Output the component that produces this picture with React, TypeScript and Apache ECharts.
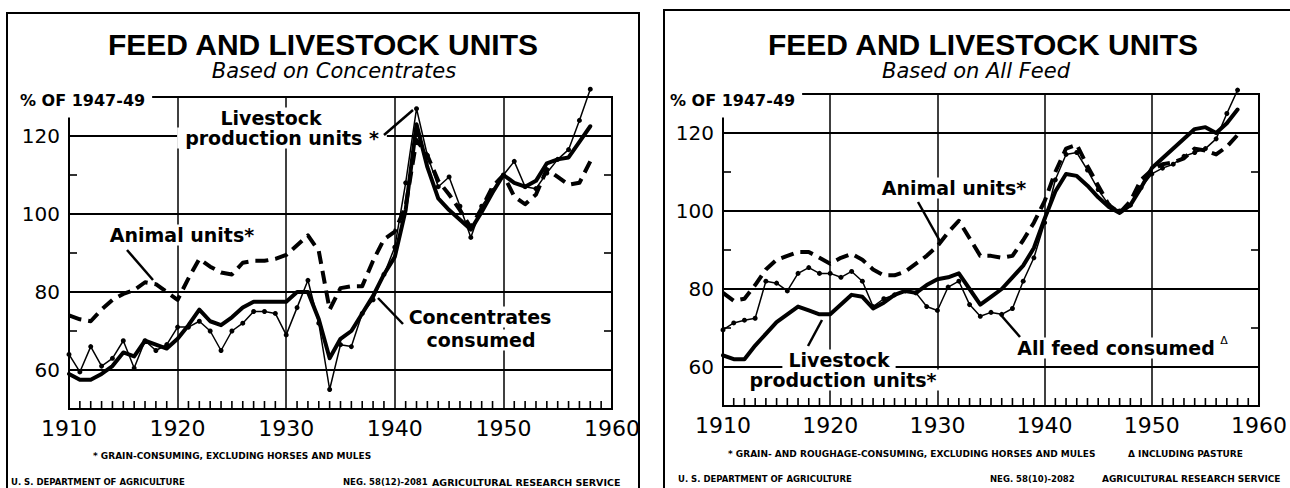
import React, { useEffect, useRef } from "react";
import * as echarts from "echarts";

// ---------- data (% of 1947-49) ----------
const years = [
  1910, 1911, 1912, 1913, 1914, 1915, 1916, 1917, 1918, 1919,
  1920, 1921, 1922, 1923, 1924, 1925, 1926, 1927, 1928, 1929,
  1930, 1931, 1932, 1933, 1934, 1935, 1936, 1937, 1938, 1939,
  1940, 1941, 1942, 1943, 1944, 1945, 1946, 1947, 1948, 1949,
  1950, 1951, 1952, 1953, 1954, 1955, 1956, 1957, 1958,
];

// Left panel: based on concentrates
const concLivestockUnits = [
  59, 57.5, 57.5, 59, 61, 64.5, 63.5, 67.5, 66.5, 65.5,
  68, 71.5, 75.5, 72.5, 71.5, 73.5, 76, 77.5, 77.5, 77.5,
  77.5, 80, 80, 73, 63, 68, 70, 74.5, 79, 84.5,
  89, 101, 123, 112, 104, 101, 98.5, 96, 100.5, 105.5,
  110, 108, 107, 108.5, 113, 114, 114.5, 118.5, 122.5,
];
const concAnimalUnits = [
  74, 73, 72.5, 75.5, 78, 79.5, 80.5, 82.5, 82, 80,
  78, 83.5, 88.5, 86.5, 85, 84.5, 87.5, 88, 88, 88.5,
  89.5, 92, 94.5, 90.5, 75.5, 81, 81.5, 81.5, 88, 93.5,
  95.5, 102, 119, 115, 108.5, 105, 101, 96.5, 101.5, 107,
  110, 104.5, 102.5, 105, 111.5, 109.5, 107.5, 108, 113.5,
];
const concConsumed = [
  64, 59.5, 66, 61, 63, 67.5, 60.5, 67.5, 65, 66.5,
  71, 71, 72.5, 70, 65, 70, 72, 75, 75, 74.5,
  69, 76, 83, 72, 55, 66.5, 66, 74.5, 78, 84.5,
  91.5, 108, 127, 115, 107, 109.5, 102, 94, 102, 106,
  110, 113.5, 107, 106.5, 110.5, 114, 116.5, 124, 132,
];

// Right panel: based on all feed
const allLivestockUnits = [
  63, 62, 62, 65.5, 68.5, 71.5, 73.5, 75.5, 74.5, 73.5,
  73.5, 76, 78.5, 78, 75, 76.5, 78.5, 79.5, 79, 81,
  82.5, 83, 84, 80, 76, 78, 80, 83, 86, 90.5,
  98, 105, 109.5, 109, 106.5, 103.5, 101, 99.5, 101.5, 106,
  111, 113.5, 116, 118.5, 121, 121.5, 120, 122.5, 126,
];
const allAnimalUnits = [
  79, 77, 77.5, 81, 85, 87.5, 88.5, 89.5, 89.5, 88,
  86.5, 88, 89, 87.5, 85, 83.5, 83.5, 84.5, 86.5, 88.5,
  91, 94.5, 97.5, 93, 88.5, 88.5, 88, 88.5, 92.5, 97,
  102.5, 110, 116, 117, 111.5, 106.5, 101.5, 99.5, 102.5, 108,
  110.5, 112, 112.5, 113.5, 116, 115.5, 114.5, 116.5, 119.5,
];
const allFeedConsumed = [
  69.5, 71.3, 72, 72.5, 82, 81.5, 79.5, 84, 85.5, 84,
  84, 83, 84.5, 82, 75.5, 77.5, 78.5, 79.5, 79, 75.5,
  74.5, 80.5, 82, 76, 73, 74, 73.5, 75, 82, 88,
  97, 108, 114.5, 115, 110.5, 105.5, 101.5, 100, 101.5, 106,
  109.5, 111, 112, 114, 115, 116, 118.5, 125, 131,
];

// axis ticks / labels
const yLabelValues = [60, 80, 100, 120];
const yMinorTicks = [70, 90, 110];
const yearTicks = [
  1911, 1912, 1913, 1914, 1915, 1916, 1917, 1918, 1919,
  1921, 1922, 1923, 1924, 1925, 1926, 1927, 1928, 1929,
  1931, 1932, 1933, 1934, 1935, 1936, 1937, 1938, 1939,
  1941, 1942, 1943, 1944, 1945, 1946, 1947, 1948, 1949,
  1951, 1952, 1953, 1954, 1955, 1956, 1957, 1958, 1959,
];
const X_MIN = 1910;
const X_MAX = 1960;
const Y_MIN = 50;
const Y_MAX = 130;

// ---------- styling ----------
const INK = "#000000";
const SANS = '"DejaVu Sans", sans-serif';
const TITLE = '"Liberation Sans", Arial, sans-serif';

const pts = (arr: number[]) => years.map((y, i) => [y, arr[i]]);

function solidSeries(name: string, arr: number[], xi: number, yi: number) {
  return {
    name, type: "line", xAxisIndex: xi, yAxisIndex: yi, data: pts(arr),
    symbol: "none", clip: false, silent: true, z: 4,
    lineStyle: { color: INK, width: 4, join: "round", cap: "round" },
  };
}
function dashedSeries(name: string, arr: number[], xi: number, yi: number) {
  return {
    name, type: "line", xAxisIndex: xi, yAxisIndex: yi, data: pts(arr),
    symbol: "none", clip: false, silent: true, z: 3,
    lineStyle: { color: INK, width: 4, type: [13, 7], join: "round" },
  };
}
function dottedSeries(name: string, arr: number[], xi: number, yi: number) {
  return {
    name, type: "line", xAxisIndex: xi, yAxisIndex: yi, data: pts(arr),
    symbol: "circle", symbolSize: 5, showSymbol: true, showAllSymbol: true,
    clip: false, silent: true, z: 5,
    itemStyle: { color: INK },
    lineStyle: { color: INK, width: 1.5 },
  };
}

function xAxisFor(gridIndex: number) {
  return {
    type: "value", gridIndex, position: "bottom", min: X_MIN, max: X_MAX, interval: 10,
    axisLine: { show: true, onZero: false, lineStyle: { color: INK, width: 2 } },
    axisTick: { show: false },
    axisLabel: { fontSize: 22, color: INK, fontFamily: SANS, margin: 8, formatter: (v: number) => String(v) },
    splitLine: { show: true, lineStyle: { color: INK, width: 1.5 } },
  };
}
function yAxisFor(gridIndex: number) {
  return {
    type: "value", gridIndex, position: "left", min: Y_MIN, max: Y_MAX, interval: 10,
    axisLine: { show: true, onZero: false, lineStyle: { color: INK, width: 2 } },
    axisTick: { show: false },
    axisLabel: {
      fontSize: 20, color: INK, fontFamily: SANS, margin: 9,
      formatter: (v: number) => (yLabelValues.indexOf(v) >= 0 ? String(v) : ""),
    },
    splitLine: { show: true, lineStyle: { color: ["transparent", INK], width: 2 } },
  };
}

function txt(text: string, x: number, y: number, o: any = {}) {
  const align = o.align || "center";
  return {
    type: "text", x, y, z: 100, silent: true,
    style: {
      text,
      fill: INK,
      fontFamily: o.fontFamily || SANS,
      fontSize: o.fontSize || 19,
      fontWeight: o.fontWeight || "bold",
      fontStyle: o.fontStyle || "normal",
      align, textAlign: align,
      verticalAlign: "middle", textVerticalAlign: "middle",
      backgroundColor: o.bg,
      padding: o.padding,
    },
  };
}
function seg(x1: number, y1: number, x2: number, y2: number, w = 2.5) {
  return {
    type: "line", z: 101, silent: true,
    shape: { x1, y1, x2, y2 },
    style: { stroke: INK, lineWidth: w },
  };
}

function staticGraphic() {
  const ann = { bg: "#fff", padding: [1, 6, 1, 6] };
  const foot = { fontSize: 9, fontWeight: "bold", align: "left" };
  return [
    // frames
    { type: "polyline", z: 90, silent: true, shape: { points: [[7, 495], [7, 13], [639, 13], [639, 495]] }, style: { stroke: INK, lineWidth: 2, fill: "none" } },
    { type: "polyline", z: 90, silent: true, shape: { points: [[664, 495], [664, 10], [1295, 10]] }, style: { stroke: INK, lineWidth: 2, fill: "none" } },

    // ----- left panel -----
    txt("FEED AND LIVESTOCK UNITS", 323, 44, { fontSize: 30, fontFamily: TITLE }),
    txt("Based on Concentrates", 334, 71, { fontSize: 21, fontWeight: "normal", fontStyle: "italic" }),
    txt("% OF 1947-49", 18, 100, { fontSize: 16, align: "left", bg: "#fff", padding: [5, 7, 14, 2] }),
    txt("Livestock", 271, 118, { ...ann }),
    txt("production units *", 282, 138, { ...ann, padding: [1, 8, 1, 8] }),
    seg(384, 135, 413, 110),
    txt("Animal units*", 182, 235, { ...ann }),
    seg(127, 250, 153, 280),
    txt("Concentrates", 480, 317, { ...ann }),
    txt("consumed", 481, 340, { ...ann }),
    seg(378, 298, 403, 324),
    txt("* GRAIN-CONSUMING, EXCLUDING HORSES AND MULES", 93, 456, foot),
    txt("U. S. DEPARTMENT OF AGRICULTURE", 11, 482, { ...foot, fontSize: 8.5 }),
    txt("NEG. 58(12)-2081", 343, 482, { ...foot, fontSize: 8.5 }),
    txt("AGRICULTURAL RESEARCH SERVICE", 432, 482, { ...foot, fontSize: 9.5 }),

    // ----- right panel -----
    txt("FEED AND LIVESTOCK UNITS", 983, 44, { fontSize: 30, fontFamily: TITLE }),
    txt("Based on All Feed", 976, 71, { fontSize: 21, fontWeight: "normal", fontStyle: "italic" }),
    txt("% OF 1947-49", 668, 100, { fontSize: 16, align: "left", bg: "#fff", padding: [5, 7, 14, 2] }),
    txt("Animal units*", 954, 188, { ...ann }),
    seg(918, 202, 941, 243),
    txt("Livestock", 839, 360, { ...ann }),
    txt("production units*", 842, 380, { ...ann, padding: [1, 4, 1, 6] }),
    seg(808, 346, 822, 320),
    txt("All feed consumed", 1121, 348, { ...ann, padding: [1, 16, 1, 6] }),
    txt("Δ", 1224, 340, { fontSize: 11, fontWeight: "normal" }),
    seg(1000, 314, 1020, 337),
    txt("* GRAIN- AND ROUGHAGE-CONSUMING, EXCLUDING HORSES AND MULES", 728, 454, foot),
    txt("Δ INCLUDING PASTURE", 1128, 454, foot),
    txt("U. S. DEPARTMENT OF AGRICULTURE", 678, 479, { ...foot, fontSize: 8.5 }),
    txt("NEG. 58(10)-2082", 990, 479, { ...foot, fontSize: 8.5 }),
    txt("AGRICULTURAL RESEARCH SERVICE", 1102, 479, { ...foot, fontSize: 9 }),
  ];
}

// tick marks: positioned through the chart's own axis scales (convertToPixel)
function tickGraphic(chart: any) {
  const out: any[] = [];
  [0, 1].forEach((g) => {
    const finder = { xAxisIndex: g, yAxisIndex: g };
    yearTicks.forEach((yr) => {
      const p = chart.convertToPixel(finder, [yr, Y_MIN]);
      if (p) out.push(seg(p[0], p[1], p[0], p[1] - 8, 1.6));
    });
    yMinorTicks.forEach((v) => {
      const l = chart.convertToPixel(finder, [X_MIN, v]);
      const r = chart.convertToPixel(finder, [X_MAX, v]);
      if (l) out.push(seg(l[0], l[1], l[0] + 8, l[1], 1.6));
      if (r) out.push(seg(r[0] - 8, r[1], r[0], r[1], 1.6));
    });
  });
  return out;
}

function buildOption() {
  return {
    animation: false,
    backgroundColor: "#fff",
    grid: [
      { left: 69, top: 97, width: 543, height: 312, show: true, borderColor: INK, borderWidth: 2, backgroundColor: "transparent" },
      { left: 723, top: 94, width: 541, height: 312, show: true, borderColor: INK, borderWidth: 2, backgroundColor: "transparent" },
    ],
    xAxis: [xAxisFor(0), xAxisFor(1)],
    yAxis: [yAxisFor(0), yAxisFor(1)],
    series: [
      dashedSeries("Animal units*", concAnimalUnits, 0, 0),
      solidSeries("Livestock production units*", concLivestockUnits, 0, 0),
      dottedSeries("Concentrates consumed", concConsumed, 0, 0),
      dashedSeries("Animal units* (all feed)", allAnimalUnits, 1, 1),
      solidSeries("Livestock production units* (all feed)", allLivestockUnits, 1, 1),
      dottedSeries("All feed consumed", allFeedConsumed, 1, 1),
    ],
    graphic: staticGraphic(),
  };
}

export default function App() {
  const ref = useRef<HTMLDivElement>(null);
  useEffect(() => {
    if (!ref.current) return;
    const chart = echarts.init(ref.current, null, { renderer: "svg" });
    chart.setOption(buildOption() as any);
    let ticks: any[] = [];
    try {
      ticks = tickGraphic(chart);
    } catch (e) {
      ticks = [];
    }
    if (ticks.length) {
      chart.setOption({ graphic: [...staticGraphic(), ...ticks] } as any, { replaceMerge: ["graphic"] } as any);
    }
    return () => chart.dispose();
  }, []);
  return (
    <div
      ref={ref}
      style={{ position: "fixed", left: 0, top: 0, width: 1290, height: 488, background: "#fff" }}
    />
  );
}
